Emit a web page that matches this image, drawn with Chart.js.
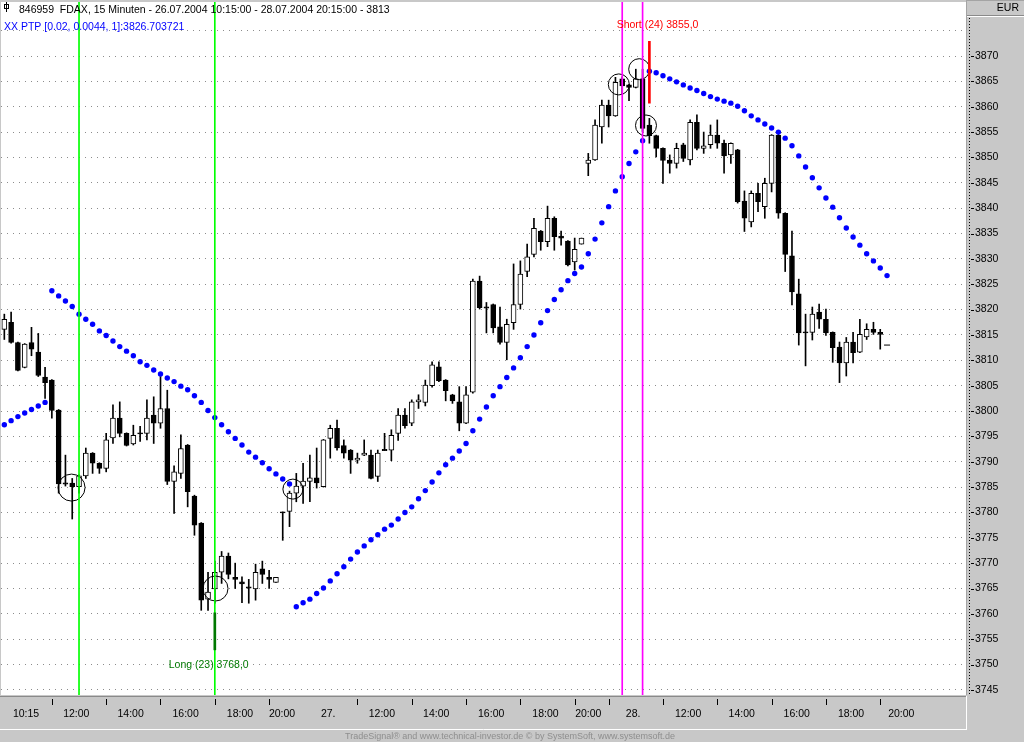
<!DOCTYPE html>
<html>
<head>
<meta charset="utf-8">
<title>FDAX 15 Minuten</title>
<script src="https://cdn.jsdelivr.net/npm/chart.js@4.4.1/dist/chart.umd.min.js"></script>
<style>
  html, body { margin: 0; padding: 0; background: #c8c8c8; }
  canvas { display: block; }
</style>
</head>
<body>
<canvas id="chart" width="1024" height="742"></canvas>
<script>
// 15 minute bars, 26.07.2004 10:15 - 28.07.2004 20:15
const opens = [3816.1,3817.5,3813.5,3808.6,3813.5,3811.6,3806.7,3806.1,3800.2,3785.7,
  3785.8,3785.1,3787.2,3791.7,3789.7,3788.7,3794.7,3798.6,3795.6,3793.5,
  3795.6,3795.6,3799.2,3797.6,3800.5,3786.1,3787.7,3793.3,3783.2,3777.9,
  3762.9,3764.9,3768.2,3771.4,3767.2,3766.3,3765.2,3764.9,3768.9,3767.2,
  3766.2,3780.0,3780.2,3783.8,3785.2,3786.1,3786.8,3785.1,3794.6,3796.6,
  3793.2,3792.3,3790.3,3791.3,3791.3,3787.1,3792.3,3792.3,3795.6,3799.2,
  3797.6,3801.8,3801.7,3805.0,3808.7,3806.1,3803.2,3801.8,3797.6,3803.7,
  3825.6,3820.4,3821.0,3816.6,3813.5,3817.4,3821.0,3827.5,3830.9,3835.5,
  3833.4,3838.0,3834.5,3833.5,3829.4,3832.9,3848.8,3849.5,3856.0,3860.3,
  3858.2,3865.5,3864.3,3863.8,3865.5,3856.4,3854.3,3851.8,3849.5,3848.8,
  3852.5,3849.5,3856.9,3851.8,3852.5,3854.4,3852.8,3850.5,3851.5,3841.4,
  3837.3,3842.9,3840.3,3844.9,3854.4,3839.0,3830.6,3823.1,3815.5,3815.5,
  3819.5,3818.1,3815.5,3812.6,3809.5,3813.6,3811.6,3814.6,3816.1,3815.5];

const highs = [3819.1,3819.5,3813.6,3813.3,3816.5,3815.3,3808.6,3806.2,3800.3,3791.3,
  3786.7,3787.4,3792.7,3791.8,3789.8,3795.6,3801.2,3801.8,3795.7,3797.2,
  3797.0,3802.2,3802.8,3806.8,3804.1,3789.2,3795.3,3793.4,3783.4,3778.0,
  3768.2,3770.4,3772.3,3772.0,3770.0,3767.3,3766.8,3769.8,3770.4,3768.6,
  3767.2,3780.1,3784.2,3787.7,3789.7,3791.3,3792.7,3794.4,3797.2,3798.2,
  3794.3,3792.4,3791.7,3794.3,3792.3,3792.3,3795.6,3796.3,3800.5,3800.5,
  3802.2,3803.2,3806.1,3809.7,3809.7,3806.2,3803.3,3804.8,3804.8,3826.0,
  3826.6,3821.4,3821.1,3820.5,3818.1,3829.0,3829.6,3832.9,3838.0,3835.6,
  3840.4,3838.3,3835.5,3833.6,3834.1,3834.1,3850.8,3857.4,3861.3,3861.3,
  3865.8,3865.9,3864.4,3867.4,3867.4,3857.7,3854.4,3851.9,3850.5,3852.8,
  3852.8,3857.4,3858.4,3855.0,3856.4,3857.4,3853.4,3852.9,3851.6,3843.4,
  3843.4,3844.9,3845.9,3854.5,3855.1,3839.1,3835.5,3826.0,3819.1,3820.5,
  3821.1,3820.1,3815.6,3813.6,3814.5,3815.5,3818.1,3817.2,3817.5,3816.1];

const lows = [3814.1,3813.4,3807.9,3808.5,3810.9,3806.8,3802.5,3798.6,3783.8,3785.2,
  3778.7,3783.8,3786.7,3787.7,3787.7,3788.0,3793.6,3794.9,3793.1,3793.3,
  3794.0,3794.3,3793.6,3796.6,3785.5,3779.8,3786.7,3781.1,3775.5,3760.7,
  3760.7,3762.1,3766.0,3766.9,3765.0,3762.2,3762.1,3762.7,3766.0,3765.0,
  3766.2,3774.5,3777.2,3782.1,3781.8,3782.1,3784.8,3785.0,3790.7,3792.3,
  3790.7,3787.7,3789.7,3791.2,3786.6,3786.1,3792.2,3790.2,3794.2,3796.6,
  3797.1,3800.5,3801.0,3804.7,3805.8,3802.0,3801.5,3796.1,3797.5,3803.5,
  3820.1,3815.4,3815.4,3813.2,3810.1,3816.1,3820.1,3826.5,3830.4,3831.7,
  3832.4,3831.7,3832.7,3828.6,3827.8,3832.9,3846.4,3849.4,3852.8,3856.0,
  3858.1,3862.5,3861.2,3863.7,3855.1,3852.8,3850.1,3844.9,3846.9,3847.9,
  3849.2,3848.5,3851.5,3850.8,3851.8,3851.8,3846.9,3848.8,3841.0,3835.4,
  3836.3,3839.3,3838.0,3843.2,3838.0,3827.5,3820.9,3813.0,3808.9,3814.0,
  3816.3,3814.9,3809.6,3805.6,3806.9,3809.5,3811.5,3814.1,3815.1,3812.2];

const closes = [3818.1,3813.5,3808.0,3813.2,3812.2,3807.0,3805.6,3800.1,3785.6,3785.7,
  3785.1,3787.2,3791.7,3789.7,3788.7,3794.3,3798.6,3795.6,3793.2,3795.2,
  3795.6,3798.6,3797.6,3800.5,3786.1,3788.0,3792.6,3784.1,3777.5,3762.7,
  3764.3,3768.2,3771.4,3767.8,3766.8,3765.9,3765.2,3768.2,3767.8,3766.8,
  3767.2,3780.0,3783.8,3785.2,3786.2,3786.8,3785.8,3794.3,3796.6,3792.7,
  3791.7,3790.3,3790.7,3791.7,3786.7,3791.7,3792.3,3795.2,3799.2,3797.1,
  3801.8,3802.2,3805.1,3809.1,3806.0,3804.0,3802.0,3797.6,3803.2,3825.6,
  3820.4,3820.4,3816.4,3813.5,3817.1,3821.0,3827.0,3830.4,3836.0,3833.4,
  3838.0,3834.4,3834.1,3828.8,3831.9,3834.1,3849.5,3856.4,3860.3,3858.2,
  3864.8,3864.1,3863.8,3865.5,3855.7,3854.3,3851.8,3849.4,3848.8,3851.8,
  3849.8,3856.9,3851.8,3852.3,3854.4,3852.8,3850.3,3852.8,3841.3,3838.0,
  3842.9,3841.3,3844.9,3854.4,3839.0,3830.9,3823.5,3815.4,3815.5,3819.1,
  3818.1,3815.4,3812.5,3809.5,3813.6,3811.5,3815.1,3816.1,3815.5,3815.1];

// PTP [0.02, 0.0044, 1] (parabolic stop), one value per bar plus the next bar
const ptp = [3797.3,3798.1,3798.9,3799.6,3800.3,3801.0,3801.7,
  3823.7,3822.7,3821.7,3820.6,3819.1,3818.1,3817.1,3815.8,3814.9,3813.8,3812.7,3811.8,
  3810.9,3809.7,3809.0,3808.1,3807.3,3806.5,3805.8,3804.9,3804.2,3803.0,3801.7,3800.1,
  3798.7,3797.3,3795.9,3794.6,3793.3,3791.9,3790.9,3789.8,3788.6,3787.6,3786.6,3785.6,
  3761.4,3762.2,3762.9,3764.0,3765.1,3766.5,3767.9,3769.3,3770.8,3772.2,3773.4,3774.6,
  3775.6,3776.7,3777.5,3778.7,3780.0,3781.1,3782.7,3784.3,3786.0,3787.8,3789.4,3790.7,
  3792.1,3793.6,3796.1,3798.4,3800.8,3803.0,3804.8,3806.6,3808.5,3810.5,3812.7,3815.0,
  3817.4,3819.8,3822.0,3823.9,3825.7,3827.1,3828.4,3831.0,3833.9,3837.1,3840.3,3843.4,
  3846.2,3848.8,3851.1,3853.3,
  3867.0,3866.7,3866.1,3865.5,3864.9,3864.3,3863.7,3863.2,3862.6,3862.0,3861.5,3861.1,
  3860.7,3860.1,3859.2,3858.2,3857.4,3856.6,3855.8,3855.0,3853.8,3852.3,3850.3,3848.1,
  3846.0,3844.0,3842.0,3840.2,3838.1,3836.1,3834.3,3832.7,3831.0,3829.6,3828.2,3826.7];

// signal bars
const longBars = [11, 31];
const shortBars = [91, 94];
const ringBar = [9.9, 31.1, 42.5, 90.5, 93.5, 94.5];
const ringPrice = [3784.9, 3765.0, 3784.6, 3864.4, 3867.4, 3856.3];
const lastPrice = 3813;

// axis labels
const xLabels = ['10:15','12:00','14:00','16:00','18:00','20:00','27.','12:00','14:00','16:00','18:00','20:00','28.','12:00','14:00','16:00','18:00','20:00'];
const xLabelBar = [3.2,10.6,18.6,26.7,34.7,40.9,47.7,55.6,63.6,71.7,79.7,86.0,92.6,100.7,108.6,116.7,124.7,132.1];
const xTickBars = [7,15,23,31,39,52,60,68,76,84,89,97,105,113,121,129];
const yTicks = [3745,3750,3755,3760,3765,3770,3775,3780,3785,3790,3795,3800,3805,3810,3815,
  3820,3825,3830,3835,3840,3845,3850,3855,3860,3865,3870,3875];

const Y_MIN = 3744.0, Y_MAX = 3880.65;
const X_MIN = -0.49, X_MAX = 141.63;

const FONT = "'Liberation Sans', Arial, sans-serif";
Chart.defaults.font.family = FONT;
Chart.defaults.font.size = 10.5;
Chart.defaults.color = '#000';

const isDoji = (i) => Math.abs(closes[i] - opens[i]) < 0.15;

const bodies = opens.map((o, i) => isDoji(i)
  ? { x: i, y: [o - 0.12, o + 0.12] }
  : { x: i, y: [o, closes[i]] });
const bodyColors = opens.map((o, i) => (!isDoji(i) && closes[i] > o) ? '#ffffff' : '#000000');
const wicks = opens.map((o, i) => ({ x: i, y: [lows[i], highs[i]] }));
const ptpPoints = ptp.map((v, i) => ({ x: i, y: v }));
const rings = ringBar.map((b, i) => ({ x: b, y: ringPrice[i] }));

const fullLine = (bars) => bars.map(b => ({ x: b, y: [Y_MIN, Y_MAX] }));

function hline(ctx, x1, y, x2, color) {
  ctx.strokeStyle = color;
  ctx.beginPath(); ctx.moveTo(x1, y); ctx.lineTo(x2, y); ctx.stroke();
}
function vline(ctx, x, y1, y2, color) {
  ctx.strokeStyle = color;
  ctx.beginPath(); ctx.moveTo(x, y1); ctx.lineTo(x, y2); ctx.stroke();
}

const framePlugin = {
  id: 'frame',
  beforeDraw(chart) {
    const { ctx, chartArea: a } = chart;
    ctx.save();
    ctx.fillStyle = '#c8c8c8';
    ctx.fillRect(0, 0, chart.width, chart.height);
    ctx.fillStyle = '#ffffff';
    ctx.fillRect(a.left, a.top, a.right - a.left, a.bottom - a.top);
    ctx.lineWidth = 1;
    // time axis panel (sunken)
    hline(ctx, 0, a.bottom + 1.5, a.right, '#8a8a8a');
    hline(ctx, 0, 729.5, a.right + 1, '#ffffff');
    vline(ctx, a.right + 0.5, a.bottom + 1, 730, '#ffffff');
    // price axis panel
    vline(ctx, a.right + 0.5, 0, a.bottom, '#a4a4a4');
    hline(ctx, a.right + 1, 0.5, chart.width, '#a4a4a4');
    hline(ctx, a.right + 1, 15.5, chart.width, '#8a8a8a');
    hline(ctx, a.right + 1, 16.5, chart.width, '#ffffff');
    ctx.restore();
  },
  afterDraw(chart) {
    const { ctx, chartArea: a, scales: { x, y } } = chart;
    ctx.save();
    ctx.lineWidth = 1;

    // dotted price axis spine and tick dashes
    ctx.setLineDash([1, 2]);
    vline(ctx, a.right + 3.5, 18, a.bottom, '#000');
    ctx.setLineDash([]);
    yTicks.forEach(v => {
      if (v > 3870) return;
      const py = Math.round(y.getPixelForValue(v)) + 0.5;
      hline(ctx, a.right + 5, py, a.right + 8, '#000');
    });

    // time axis tick marks
    xTickBars.forEach(b => {
      const px = Math.round(x.getPixelForValue(b)) + 0.5;
      vline(ctx, px, a.bottom + 4, a.bottom + 10, '#000');
    });

    // header lines
    ctx.font = '10.5px ' + FONT;
    ctx.textBaseline = 'middle';
    ctx.textAlign = 'left';
    // small candle glyph
    vline(ctx, 6.5, 2, 12, '#000');
    ctx.strokeStyle = '#000';
    ctx.strokeRect(4.5, 4.5, 4, 4);
    ctx.fillStyle = '#000';
    ctx.fillText('846959  FDAX, 15 Minuten - 26.07.2004 10:15:00 - 28.07.2004 20:15:00 - 3813', 19, 10);
    ctx.fillStyle = '#0000ff';
    ctx.fillText('XX PTP [0.02, 0.0044, 1]:3826.703721', 4, 27);

    // signal labels
    ctx.textAlign = 'center';
    ctx.fillStyle = '#007800';
    ctx.fillText('Long (23) 3768,0', x.getPixelForValue(30.1), y.getPixelForValue(3749.9));
    ctx.fillStyle = '#ff0000';
    ctx.fillText('Short (24) 3855,0', x.getPixelForValue(96.2), y.getPixelForValue(3876.1));

    // currency
    ctx.textAlign = 'right';
    ctx.fillStyle = '#000';
    ctx.fillText('EUR', 1019, 8);

    // footer
    ctx.textAlign = 'center';
    ctx.fillStyle = '#8e8e8e';
    ctx.font = '9px ' + FONT;
    ctx.fillText('TradeSignal\u00ae and www.technical-investor.de \u00a9 by SystemSoft, www.systemsoft.de', 510, 737);
    ctx.restore();
  }
};

new Chart(document.getElementById('chart'), {
  type: 'bar',
  data: {
    datasets: [
      { type: 'bar', data: wicks, backgroundColor: '#000', borderWidth: 0,
        barThickness: 1, grouped: false, order: 6 },
      { type: 'bar', data: bodies, backgroundColor: bodyColors, borderColor: '#000',
        borderWidth: 1, borderSkipped: false, barThickness: 5, grouped: false, order: 5 },
      { type: 'scatter', data: ptpPoints, pointRadius: 2.7, pointBackgroundColor: '#0000ff',
        pointBorderWidth: 0, order: 4 },
      { type: 'scatter', data: rings, pointRadius: [13.5, 12.5, 10, 10.5, 10.5, 10.5],
        pointBackgroundColor: 'rgba(0,0,0,0)', pointBorderColor: '#000', pointBorderWidth: 1, order: 3 },
      { type: 'scatter', data: [{ x: 130, y: lastPrice }], pointStyle: 'line', pointRadius: 3,
        pointBorderColor: '#000', pointBorderWidth: 1, order: 3 },
      { type: 'bar', data: fullLine(longBars), backgroundColor: '#00ff00', borderWidth: 0,
        barThickness: 1, grouped: false, order: 2 },
      { type: 'bar', data: fullLine(shortBars), backgroundColor: '#ff00ff', borderWidth: 0,
        barThickness: 1, grouped: false, order: 2 },
      { type: 'bar', data: [{ x: 31, y: [3752.9, 3760.2] }], backgroundColor: '#007800',
        borderWidth: 0, barThickness: 2, grouped: false, order: 1 },
      { type: 'bar', data: [{ x: 95, y: [3860.7, 3872.9] }], backgroundColor: '#ff0000',
        borderWidth: 0, barThickness: 2, grouped: false, order: 1 }
    ]
  },
  options: {
    responsive: false,
    animation: false,
    events: [],
    layout: { autoPadding: false, padding: { left: 1, top: 2, right: 0, bottom: 0 } },
    plugins: { legend: { display: false }, tooltip: { enabled: false } },
    scales: {
      x: {
        type: 'linear', position: 'bottom', min: X_MIN, max: X_MAX, offset: false,
        grid: { display: false, offset: false },
        border: { display: false },
        ticks: {
          autoSkip: false, maxRotation: 0, padding: 5,
          callback: (v, k) => xLabels[k] !== undefined ? xLabels[k] : ''
        },
        afterBuildTicks: s => { s.ticks = xLabelBar.map(v => ({ value: v })); },
        afterFit: s => { s.height = 47; s.paddingLeft = 0; s.paddingRight = 0; }
      },
      y: {
        type: 'linear', position: 'right', min: Y_MIN, max: Y_MAX,
        grid: {
          drawTicks: false, lineWidth: 1,
          color: c => (c.tick && c.tick.value <= 3875) ? '#8c8c8c' : 'rgba(0,0,0,0)'
        },
        border: { display: false, dash: [1, 5] },
        ticks: { padding: 9, callback: v => v <= 3870 ? String(v) : '' },
        afterBuildTicks: s => { s.ticks = yTicks.map(v => ({ value: v })); },
        afterFit: s => { s.width = 58; s.paddingTop = 0; s.paddingBottom = 0; }
      }
    }
  },
  plugins: [framePlugin]
});
</script>
</body>
</html>
